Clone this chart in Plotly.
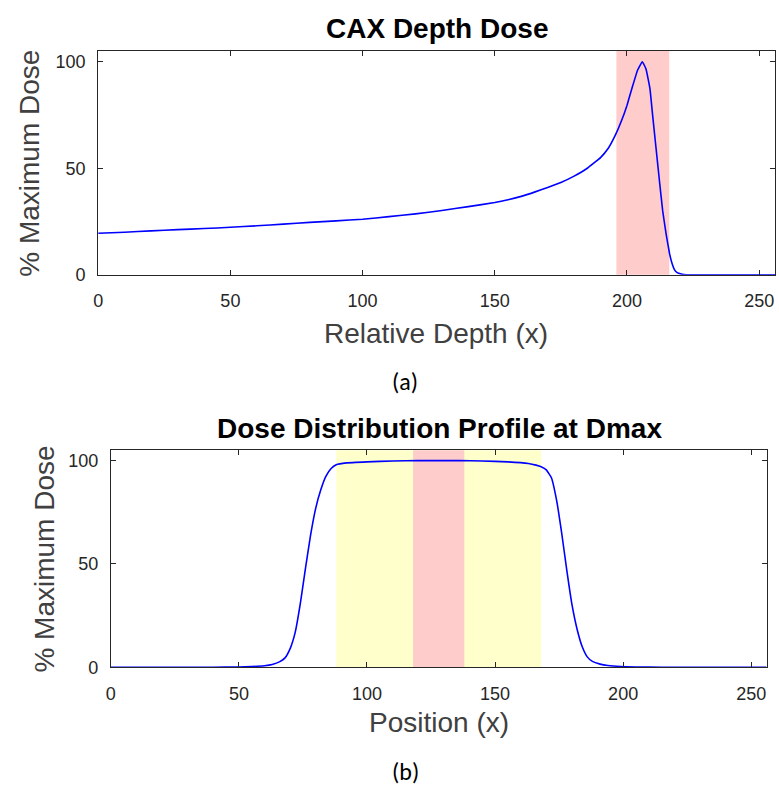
import plotly.graph_objects as go

# ---------------- data ----------------
# (a) central-axis depth dose
depth_x = [0, 10, 20, 30, 40, 50, 60, 70, 80, 90, 100, 110, 120, 130, 140, 150,
           155, 160, 165, 170, 175, 180, 185, 190, 193, 195.6, 198, 200, 202,
           204, 205.8, 207.2, 208.7, 209.7, 211.0, 212.3, 213.5, 214.8, 216.1,
           217, 218, 219, 220.5, 222.4, 230, 256]
depth_dose = [19.5, 20.0, 20.6, 21.2, 21.7, 22.3, 23.0, 23.8, 24.6, 25.3, 26.1,
              27.3, 28.6, 30.2, 32.0, 33.9, 35.2, 36.8, 38.8, 41.0, 43.3, 46.3,
              50.0, 55.0, 59.5, 65.5, 72.5, 79.5, 88.0, 96.0, 100.0, 96.6, 87.3,
              74.9, 59.4, 43.9, 30.1, 19.2, 10.0, 5.5, 2.3, 1.0, 0.4, 0.0, 0.0, 0.0]
depth_band = [196, 216]          # red band on (a)

# (b) lateral profile at Dmax
prof_x = [0, 40, 50, 55, 60, 63, 66, 68, 70, 72, 74, 76, 78, 80, 82, 84, 86, 88,
          92, 100, 110, 120, 128, 136, 145, 155, 163, 166, 168, 170, 172, 174,
          176, 178, 180, 182, 184, 186, 188, 191, 194, 199, 205, 215, 256]
prof_dose = [0.0, 0.0, 0.1, 0.3, 0.7, 1.3, 2.7, 4.5, 9.0, 17.0, 31.0, 48.0, 64.0,
             77.0, 86.0, 92.5, 96.2, 98.0, 98.9, 99.4, 99.8, 100.0, 100.0, 100.0,
             99.8, 99.4, 98.6, 97.8, 97.0, 95.5, 91.7, 81.0, 65.0, 47.0, 30.5,
             18.5, 10.0, 5.0, 2.8, 1.5, 0.8, 0.3, 0.1, 0.0, 0.0]
prof_yellow_band = [88, 168]     # yellow band on (b)
prof_red_band = [118, 138]       # red band on (b)

x_ticks = [0, 50, 100, 150, 200, 250]
y_ticks = [0, 50, 100]
x_range = [0, 256]
y_range = [0, 105]

# ---------------- figure ----------------
W, H = 779, 795
AX = "#262626"
TICKFONT = dict(family="Arial, Liberation Sans, sans-serif", size=18, color="#262626")

fig = go.Figure()
fig.add_trace(go.Scatter(x=depth_x, y=depth_dose, mode="lines",
                         line=dict(color="#0000FF", width=1.6, shape="spline", smoothing=0.3),
                         xaxis="x", yaxis="y", showlegend=False, hoverinfo="skip"))
fig.add_trace(go.Scatter(x=prof_x, y=prof_dose, mode="lines",
                         line=dict(color="#0000FF", width=1.6, shape="spline", smoothing=0.4),
                         xaxis="x2", yaxis="y2", showlegend=False, hoverinfo="skip"))

def px(v):
    return v / W

def py(v):
    return 1 - v / H

axis_common = dict(range=x_range, tickvals=x_ticks, showline=True, mirror="ticks",
                   linecolor=AX, linewidth=1, ticks="inside", ticklen=5,
                   tickcolor=AX, tickwidth=1, showgrid=False, zeroline=False,
                   tickfont=TICKFONT, ticklabelstandoff=10, fixedrange=True)
yaxis_common = dict(range=y_range, tickvals=y_ticks, showline=True, mirror="ticks",
                    linecolor=AX, linewidth=1, ticks="inside", ticklen=5,
                    tickcolor=AX, tickwidth=1, showgrid=False, zeroline=False,
                    tickfont=TICKFONT, ticklabelstandoff=8, fixedrange=True)

fig.update_layout(
    width=W, height=H,
    margin=dict(l=0, r=0, t=0, b=0),
    paper_bgcolor="white", plot_bgcolor="white",
    xaxis=dict(domain=[px(93.8), px(775)], anchor="y", **axis_common),
    yaxis=dict(domain=[py(278.3), py(51.7)], anchor="x", **yaxis_common),
    xaxis2=dict(domain=[px(106.5), px(766.5)], anchor="y2", **axis_common),
    yaxis2=dict(domain=[py(675.7), py(456)], anchor="x2", **yaxis_common),
)

# bands
fig.add_shape(type="rect", xref="x", yref="y domain", x0=depth_band[0], x1=depth_band[1],
              y0=0, y1=1, fillcolor="#FFCCCC", line_width=0, layer="below")
fig.add_shape(type="rect", xref="x2", yref="y2 domain", x0=prof_yellow_band[0],
              x1=prof_yellow_band[1], y0=0, y1=1, fillcolor="#FFFFCC", line_width=0,
              layer="below")
fig.add_shape(type="rect", xref="x2", yref="y2 domain", x0=prof_red_band[0],
              x1=prof_red_band[1], y0=0, y1=1, fillcolor="#FFCCCC", line_width=0,
              layer="below")

TITLEFONT = dict(family="Arial, Liberation Sans, sans-serif", size=28, color="black")
LABELFONT = dict(family="Arial, Liberation Sans, sans-serif", size=28, color="#404040")
CAPFONT = dict(family="Carlito, Lato, sans-serif", size=24, color="black")

def note(text, x, y, font, angle=0):
    fig.add_annotation(text=text, x=px(x), y=py(y), xref="paper", yref="paper",
                       xanchor="center", yanchor="middle", showarrow=False,
                       font=font, textangle=angle)

note("<b>CAX Depth Dose</b>", 435, 29, TITLEFONT)
note("<b>Dose Distribution Profile at Dmax</b>", 437, 434, TITLEFONT)
note("% Maximum Dose", 25, 165, LABELFONT, -90)
note("% Maximum Dose", 40, 566, LABELFONT, -90)
note("Relative Depth (x)", 434, 338, LABELFONT)
note("Position (x)", 436.5, 731.7, LABELFONT)
note("(a)", 403, 386, CAPFONT)
note("(b)", 403, 781, CAPFONT)

fig.write_html("out.html")
